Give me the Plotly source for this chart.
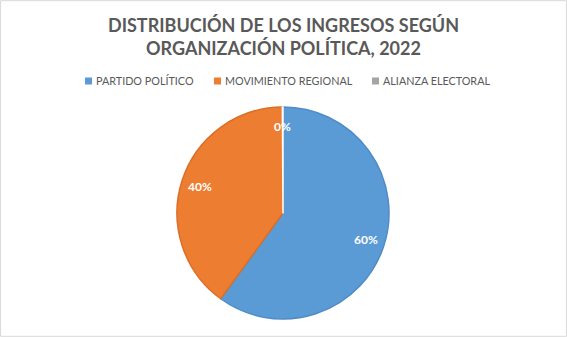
import math
import plotly.graph_objects as go

labels = ["PARTIDO POLÍTICO", "MOVIMIENTO REGIONAL", "ALIANZA ELECTORAL"]
values = [60.0, 39.9, 0.1]
colors = ["#5B9BD5", "#ED7D31", "#A5A5A5"]
edge_colors = ["#4F8CC6", "#DB6F27", "#FFFFFF"]

W, H = 567, 337
cx, cy, r = 283, 213, 106  # pixel layout of the pie
legend_px = [85, 214, 372]  # left edge of each legend swatch (px)
legend_cy = 81

def px2x(p):
    return p / W

def py2y(p):
    return 1 - p / H

dom_x = [px2x(cx - r), px2x(cx + r)]
dom_y = [py2y(cy + r), py2y(cy - r)]

fig = go.Figure()
fig.add_trace(go.Pie(
    labels=labels, values=values, sort=False, direction="clockwise", rotation=0,
    marker=dict(colors=colors, line=dict(color=edge_colors, width=1.5)),
    textinfo="none", hoverinfo="label+percent", showlegend=False,
    domain=dict(x=dom_x, y=dom_y),
))

total = sum(values)
cum = 0.0
annotations = []
shapes = []
for v in values:
    mid = (cum + v / 2) / total * 2 * math.pi
    cum += v
    px = cx + 0.82 * r * math.sin(mid)
    py = cy - 0.82 * r * math.cos(mid)
    pct = round(v / total * 100)
    annotations.append(dict(
        x=px2x(px), y=py2y(py), xref="paper", yref="paper",
        text=f"<b>{pct}%</b>", showarrow=False,
        font=dict(family="Lato", size=12, color="#FFFFFF"),
        xanchor="center", yanchor="middle",
    ))

# legend built from the label/colour arrays
for lab, col, lx in zip(labels, colors, legend_px):
    shapes.append(dict(type="rect", xref="paper", yref="paper",
                       x0=px2x(lx), x1=px2x(lx + 7), y0=py2y(legend_cy + 3.5), y1=py2y(legend_cy - 3.5),
                       fillcolor=col, line=dict(width=0)))
    annotations.append(dict(
        x=px2x(lx + 9), y=py2y(legend_cy), xref="paper", yref="paper",
        text=lab, showarrow=False, xanchor="left", yanchor="middle",
        font=dict(family="Lato", size=10.8, color="#595959"),
    ))

shapes.append(dict(type="rect", xref="paper", yref="paper", x0=0.001, x1=0.999, y0=0.002, y1=0.998,
                   line=dict(color="#D9D9D9", width=1)))

fig.update_layout(
    width=W, height=H,
    margin=dict(l=0, r=0, t=0, b=0),
    paper_bgcolor="white", plot_bgcolor="white",
    showlegend=False,
    title=dict(
        text="<b>DISTRIBUCIÓN DE LOS INGRESOS SEGÚN<br>ORGANIZACIÓN POLÍTICA, 2022</b>",
        x=0.5, xanchor="center", y=1 - 32 / H, yanchor="middle", yref="container",
        font=dict(family="Lato", size=18, color="#595959"),
    ),
    annotations=annotations,
    shapes=shapes,
)

fig.write_html("out.html")
